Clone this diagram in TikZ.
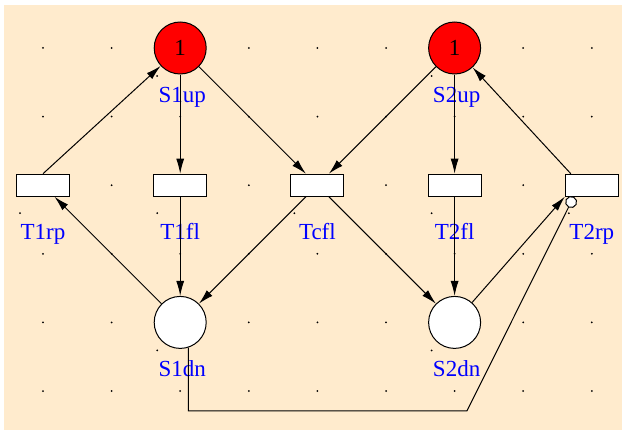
\documentclass[tikz,border=0pt]{standalone}
\usepackage{fontspec}
\setmainfont{Liberation Serif}
\usepackage{tikz}
\usetikzlibrary{arrows.meta}
\tikzset{circ/.style = {fill, circle, inner sep = 0, minimum size = 2}}
\tikzset{place/.style = {draw, circle, inner sep = 0, minimum size = 52, line width = 1, font = \fontsize{23}{23}\selectfont}}
\tikzset{trans/.style = {draw, fill = white, inner sep = 0, minimum width = 53, minimum height = 22, line width = 1}}
\definecolor{mpeach}{RGB}{255,235,205}
\definecolor{mred}{RGB}{255,0,0}
\definecolor{mblue}{RGB}{0,0,255}

\begin{document}
\begin{tikzpicture}[x = 68.6pt, y = -68.6pt,
    arc/.style = {-{Latex[length = 15pt, width = 8pt]}, line width = 1},
    lbl/.style = {text = mblue, font = \fontsize{23}{23}\selectfont, inner sep = 0, anchor = base}]
      \useasboundingbox (-0.6268, -0.6997) rectangle (8.44, 5.5685);
      \fill [mpeach] (-0.5685, -0.6268) rectangle (8.44, 5.5685);

      \foreach \x in {0,...,8} {
        \foreach \y in {0,...,5} {
          \node [circ] at (\x, \y) {};
        }
      }
      \foreach \x/\y in {2/0, 6/0, 2/4, 6/4, 0/2, 2/2, 4/2, 6/2, 8/2} {
        \node [circ] at (\x - 0.335, \y + 0.408) {};
      }

      % places
      \node [place, fill = mred] (S1up) at (2, 0) {1};
      \node [place, fill = mred] (S2up) at (6, 0) {1};
      \node [place, fill = white] (S1dn) at (2, 4) {};
      \node [place, fill = white] (S2dn) at (6, 4) {};
      \foreach \name in {S1up, S2up, S1dn, S2dn} {
        \node [lbl] at ([xshift = 2, yshift = -28]\name.south) {\name};
      }

      % transitions
      \foreach \name/\x in {T1rp/0, T1fl/2, Tcfl/4, T2fl/6, T2rp/8} {
        \node [trans] (\name) at (\x, 2) {};
        \node [lbl] at ([yshift = -43]\name.south) {\name};
      }

      \draw [arc] (T1rp.north) -- (S1up);
      \draw [arc] (S1up) -- (T1fl);
      \draw [arc] (S1up) -- (Tcfl);
      \draw [arc] (S2up) -- (Tcfl);
      \draw [arc] (S2up) -- (T2fl);
      \draw [arc] ([xshift = 6]T2rp.north west) -- (S2up);
      \draw [arc] (S1dn) -- (T1rp);
      \draw [arc] (T1fl) -- (S1dn);
      \draw [arc] (Tcfl) -- (S1dn);
      \draw [arc] (Tcfl) -- (S2dn);
      \draw [arc] (T2fl) -- (S2dn);
      \draw [arc] (S2dn) -- (T2rp.south west);

      % inhibitor arc
      \coordinate (bend) at (6.18, 5.29);
      \draw [line width = 1, -{Circle[open, fill = white, length = 12pt, width = 12pt]}]
        (S1dn.-72) |- (bend) -- ([xshift = 9]T2rp.south west);
    \end{tikzpicture}
\end{document}
